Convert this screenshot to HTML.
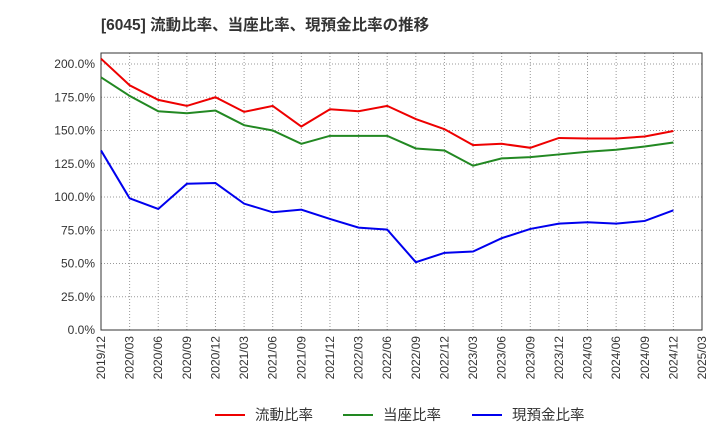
<!DOCTYPE html>
<html><head><meta charset="utf-8"><style>
body{margin:0;background:#fff;font-family:"Liberation Sans","Noto Sans CJK JP",sans-serif}
</style></head><body>
<svg width="720" height="440" xmlns="http://www.w3.org/2000/svg" id="chart" font-family="Liberation Sans, Noto Sans CJK JP, sans-serif">
<text x="101" y="30" font-size="15.5" font-weight="bold" fill="#333">[6045]  流動比率、当座比率、現預金比率の推移</text>
<g id="grid"></g><g id="axes"></g><g id="series"></g><g id="legend"></g>
</svg>
<script>
const categories=["2019/12","2020/03","2020/06","2020/09","2020/12","2021/03","2021/06","2021/09","2021/12","2022/03","2022/06","2022/09","2022/12","2023/03","2023/06","2023/09","2023/12","2024/03","2024/06","2024/09","2024/12","2025/03"];
const currentRatio=[204,184,173,168.5,175,164,168.5,153,166,164.5,168.5,158.6,151,139,140,137,144.4,144,144,145.5,149.6];
const quickRatio=[190,176,164.5,163,165,154,150,140,146,146,146,136.5,135,123.5,129,130,132,134,135.5,138,141];
const cashRatio=[135,99,91,110,110.5,95,88.5,90.5,83.5,77,75.5,51,58,59,69,76,80,81,80,82,90];
const yTicks=[0,25,50,75,100,125,150,175,200];
const seriesNames=["流動比率","当座比率","現預金比率"];
const colors=["#ee0000","#228822","#0000ee"];
const L=101,R=702,T=53,B=330;
const ns="http://www.w3.org/2000/svg";
const xs=i=>L+(R-L)*i/(categories.length-1);
const ys=v=>B-(B-64)*v/200;
function mk(tag,attrs,parent){const e=document.createElementNS(ns,tag);for(const k in attrs)e.setAttribute(k,attrs[k]);document.getElementById(parent).appendChild(e);return e;}
categories.forEach((c,i)=>{const l=mk('line',{x1:xs(i),x2:xs(i),y1:T,y2:B,stroke:'#999','stroke-dasharray':'1,2','stroke-width':1},'grid');


const t=mk('text',{x:0,y:0,'font-size':12,fill:'#333','text-anchor':'end',transform:`translate(${xs(i)+4},${B+6}) rotate(-90)`},'axes');t.textContent=c;

});
yTicks.forEach(v=>{const l=mk('line',{x1:L,x2:R,y1:ys(v),y2:ys(v),stroke:'#999','stroke-dasharray':'1,2','stroke-width':1},'grid');


const t=mk('text',{x:L-6,y:ys(v)+4,'font-size':12,fill:'#333','text-anchor':'end'},'axes');t.textContent=v.toFixed(1)+'%';

});
const fr=mk('rect',{x:L,y:T,width:R-L,height:B-T,fill:'none',stroke:'#333','stroke-width':1},'axes');


[currentRatio,quickRatio,cashRatio].forEach((d,k)=>{const p=mk('polyline',{points:d.map((v,i)=>xs(i)+','+ys(v)).join(' '),fill:'none',stroke:colors[k],'stroke-width':2},'series');


const lx=[215,343,472][k];
const ll=mk('line',{x1:lx,x2:lx+30,y1:415,y2:415,stroke:colors[k],'stroke-width':2},'legend');


const lt=mk('text',{x:lx+40,y:420,'font-size':14.5,fill:'#333'},'legend');lt.textContent=seriesNames[k];

});
</script>
</body></html>
